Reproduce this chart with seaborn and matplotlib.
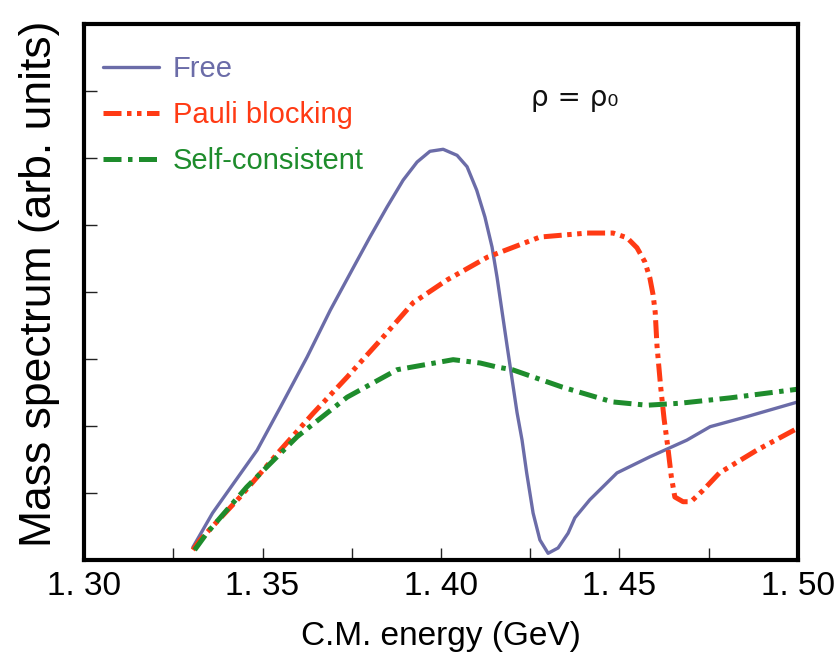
import matplotlib
matplotlib.use("Agg")
import matplotlib.pyplot as plt
import seaborn as sns
import pandas as pd
from matplotlib.ticker import FixedLocator, FuncFormatter

# ---- data ----
free_x = [1.3305, 1.336, 1.3485, 1.355, 1.3625, 1.369, 1.3755, 1.3801, 1.3849, 1.3894,
          1.3933, 1.3969, 1.4006, 1.4045, 1.4073, 1.410, 1.4123, 1.4143, 1.4157, 1.4185,
          1.4213, 1.4227, 1.424, 1.4258, 1.4277, 1.430, 1.4328, 1.4356, 1.4375, 1.4417,
          1.4493, 1.4585, 1.4689, 1.4754, 1.4857, 1.500]
free_y = [0.19, 0.70, 1.64, 2.28, 3.03, 3.73, 4.37, 4.82, 5.27, 5.67,
          5.94, 6.10, 6.13, 6.04, 5.87, 5.52, 5.12, 4.67, 4.22, 3.20,
          2.20, 1.79, 1.30, 0.70, 0.30, 0.10, 0.18, 0.40, 0.63, 0.90,
          1.30, 1.54, 1.79, 1.99, 2.14, 2.36]

pauli_x = [1.3305, 1.3325, 1.3437, 1.355, 1.3642, 1.3737, 1.383, 1.3922, 1.4017, 1.413,
           1.4277, 1.4409, 1.4482, 1.4521, 1.4549, 1.4571, 1.4585, 1.4594, 1.460, 1.4605,
           1.4615, 1.4625, 1.4635, 1.4645, 1.4655, 1.4678, 1.470, 1.4734, 1.478, 1.4885,
           1.500]
pauli_y = [0.15, 0.30, 0.94, 1.64, 2.19, 2.73, 3.28, 3.84, 4.18, 4.52,
           4.82, 4.88, 4.88, 4.81, 4.66, 4.45, 4.21, 3.96, 3.70, 3.20,
           2.60, 2.10, 1.70, 1.25, 0.94, 0.87, 0.87, 1.04, 1.30, 1.64,
           1.97]

sc_x = [1.331, 1.3344, 1.3456, 1.3597, 1.3737, 1.3877, 1.4034, 1.411, 1.4157, 1.420,
        1.434, 1.448, 1.4577, 1.467, 1.481, 1.500]
sc_y = [0.15, 0.40, 1.09, 1.84, 2.43, 2.84, 2.99, 2.94, 2.88, 2.84,
        2.58, 2.36, 2.31, 2.34, 2.42, 2.55]

labels = ["Free", "Pauli blocking", "Self-consistent"]
colors = ["#6b6ca8", "#ff3a14", "#1e8c2c"]
xtick_vals = [1.30, 1.35, 1.40, 1.45, 1.50]
xminor_vals = [1.325, 1.375, 1.425, 1.475]
ytick_vals = [1, 2, 3, 4, 5, 6, 7]

sns.set_theme(style="white")
plt.rcParams["font.family"] = ["Liberation Sans", "DejaVu Sans"]

fig = plt.figure(figsize=(8.37, 6.67), dpi=100)
ax = fig.add_axes([84 / 837, 107 / 667, 714 / 837, 536 / 667])

series = [(free_x, free_y), (pauli_x, pauli_y), (sc_x, sc_y)]
styles = [
    dict(linestyle="-", linewidth=2.4),
    dict(linestyle=(0, (3.6, 1.1, 0.9, 1.1, 0.9, 1.1)), linewidth=3.6),
    dict(linestyle=(0, (3.6, 1.3, 0.9, 1.3)), linewidth=3.6),
]
for (xs, ys), lab, col, st in zip(series, labels, colors, styles):
    df = pd.DataFrame({"x": xs, "y": ys})
    sns.lineplot(data=df, x="x", y="y", ax=ax, color=col, label=lab,
                 sort=False, estimator=None, **st)

ax.set_xlim(1.30, 1.50)
ax.set_ylim(0, 8)

for sp in ax.spines.values():
    sp.set_visible(True)
    sp.set_color("black")
    sp.set_linewidth(3.0)

ax.xaxis.set_major_locator(FixedLocator(xtick_vals))
ax.xaxis.set_minor_locator(FixedLocator(xminor_vals))
ax.xaxis.set_major_formatter(FuncFormatter(lambda v, p: "1. %02d" % round((v - 1) * 100)))
ax.yaxis.set_major_locator(FixedLocator(ytick_vals))
ax.set_yticklabels([])
ax.tick_params(axis="x", which="both", direction="in", length=9, width=1.0,
               color="#222222", pad=8, bottom=True, top=False, labelsize=24,
               labelcolor="black")
ax.tick_params(axis="y", which="major", direction="in", length=9, width=1.0,
               color="#222222", left=True, right=False)

ax.set_xlabel("C.M. energy (GeV)", fontsize=24, va="center", color="black")
ax.xaxis.set_label_coords(0.5, -0.142)
ax.set_ylabel("Mass spectrum (arb. units)", fontsize=32, va="center", color="black")
ax.yaxis.set_label_coords(-0.062, 0.515)

leg = ax.legend(loc="upper left", bbox_to_anchor=(0.026, 0.942), frameon=False,
                fontsize=21, handlelength=1.95, handletextpad=0.45,
                labelspacing=0.62, borderpad=0, borderaxespad=0)
for txt, col in zip(leg.get_texts(), colors):
    txt.set_color(col)

ax.text(0.688, 0.862, "ρ = ρ\u2080", transform=ax.transAxes,
        fontsize=20, ha="center", va="center", color="#111111",
        fontfamily=["DejaVu Sans"])

fig.savefig("out.png", dpi=100)
